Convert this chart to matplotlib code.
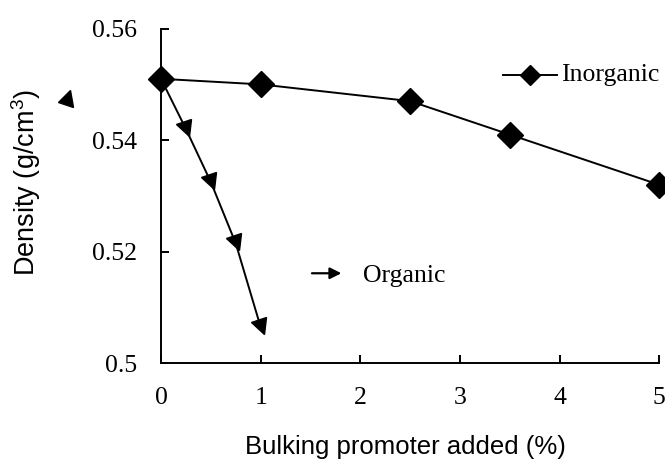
import matplotlib
matplotlib.use("Agg")
import matplotlib.pyplot as plt
from matplotlib.markers import MarkerStyle
from matplotlib.transforms import Affine2D
from matplotlib.ticker import FuncFormatter

# bulking promoter dosage (%) and measured density (g/cm3)
inorg_x = [0, 1, 2.5, 3.5, 5]
inorg_y = [0.551, 0.550, 0.547, 0.541, 0.532]
org_x = [0, 0.25, 0.5, 0.75, 1.0]
org_y = [0.551, 0.542, 0.5325, 0.5215, 0.5065]

x_ticks = [0, 1, 2, 3, 4, 5]
y_ticks = [0.50, 0.52, 0.54, 0.56]

serif = "Liberation Serif"
sans = "Liberation Sans"
fs = 18.5
lw = 1.4

plt.rcParams["mathtext.fontset"] = "custom"
plt.rcParams["mathtext.rm"] = sans

fig = plt.figure(figsize=(6.65, 4.59), dpi=100)
ax = fig.add_axes([0.2421, 0.2085, 0.7493, 0.7292])

# shared starting point is shown by the diamond only
tri = MarkerStyle("v", transform=Affine2D().rotate_deg(20))
ax.plot(org_x, org_y, color="black", lw=lw, marker=tri, ms=11,
        markevery=list(range(1, len(org_x))), clip_on=False, zorder=3)
ax.plot(inorg_x, inorg_y, color="black", lw=lw, marker="D", ms=13,
        clip_on=False, zorder=4)

ax.set_xlim(0, 5)
ax.set_ylim(0.50, 0.56)
ax.set_xticks(x_ticks)
ax.set_yticks(y_ticks)
ax.yaxis.set_major_formatter(FuncFormatter(lambda v, p: "%g" % round(v, 3)))
ax.tick_params(direction="in", length=6, width=lw, pad=17)
for lab in ax.get_xticklabels() + ax.get_yticklabels():
    lab.set_fontfamily(serif)
    lab.set_fontsize(fs)

for s in ["top", "right"]:
    ax.spines[s].set_visible(False)
for s in ["left", "bottom"]:
    ax.spines[s].set_linewidth(lw)

fig.text(0.610, 0.026, "Bulking promoter added (%)", family=sans,
         fontsize=fs, ha="center", va="center")
fig.text(0.040, 0.603, r"Density (g/cm$^\mathrm{3}$)", family=sans,
         fontsize=19.5, rotation=90, ha="center", va="center")

# series keys
ax.plot([0.686, 0.795], [0.860, 0.860], color="black", lw=lw,
        transform=ax.transAxes, clip_on=False)
ax.plot([0.7405], [0.860], marker="D", ms=10, color="black",
        transform=ax.transAxes, clip_on=False)
ax.text(0.803, 0.860, "Inorganic", family=serif, fontsize=fs,
        ha="left", va="center", transform=ax.transAxes)

ax.annotate("", xy=(0.362, 0.269), xytext=(0.303, 0.269),
            xycoords="axes fraction",
            arrowprops=dict(arrowstyle="-|>", color="black", lw=1.6,
                            mutation_scale=17, shrinkA=0, shrinkB=0))
ax.text(0.405, 0.262, "Organic", family=serif, fontsize=fs,
        ha="left", va="center", transform=ax.transAxes)

up_tri = MarkerStyle("^", transform=Affine2D().rotate_deg(-17))
ax.plot([-0.187], [0.796], marker=up_tri, ms=11, color="black",
        transform=ax.transAxes, clip_on=False)

fig.savefig("out.png", dpi=100)
